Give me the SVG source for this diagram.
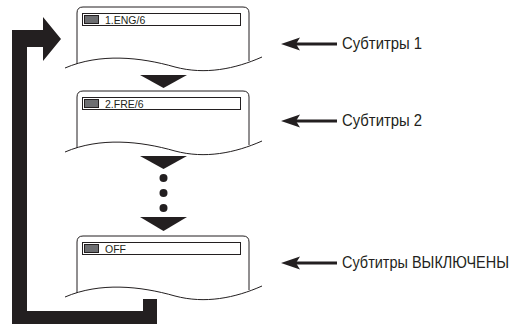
<svg xmlns="http://www.w3.org/2000/svg" width="512" height="324" viewBox="0 0 512 324">
<defs>
<style>
.frame{fill:none;stroke:#231f20;stroke-width:1}
.wave{fill:none;stroke:#231f20;stroke-width:1}
.bar{fill:#fff;stroke:#231f20;stroke-width:1}
.icon{fill:#6d6e71;stroke:#231f20;stroke-width:1}
.stxt{font-family:"Liberation Sans",Arial,sans-serif;font-size:10.5px;fill:#231f20}
.lbl{font-family:"Liberation Sans",Arial,sans-serif;font-size:16px;fill:#231f20}
.blk{fill:#231f20}
.ptr{stroke:#231f20;stroke-width:3;fill:none}
</style>
</defs>
<rect width="512" height="324" fill="#fff"/>

<g id="screen1" transform="translate(0,7)">
<path class="frame" d="M77,57 V6 Q77,0 83,0 H243 Q249,0 249,6 V54"/>
<path class="wave" d="M65,61 C100,46 140,50 175,60 C205,68 235,62 262,50"/>
<rect class="bar" x="82.5" y="6.5" width="158" height="12"/>
<rect class="icon" x="84.5" y="8.5" width="14" height="8"/>
<text class="stxt" x="105" y="16.7">1.ENG/6</text>
</g>

<g id="screen2" transform="translate(0,91)">
<path class="frame" d="M77,57 V6 Q77,0 83,0 H243 Q249,0 249,6 V54"/>
<path class="wave" d="M65,61 C100,46 140,50 175,60 C205,68 235,62 262,50"/>
<rect class="bar" x="82.5" y="6.5" width="158" height="12"/>
<rect class="icon" x="84.5" y="8.5" width="14" height="8"/>
<text class="stxt" x="105" y="16.7">2.FRE/6</text>
</g>

<g id="screen3" transform="translate(0,236)">
<path class="frame" d="M77,57 V6 Q77,0 83,0 H243 Q249,0 249,6 V54"/>
<path class="wave" d="M65,61 C100,46 140,50 175,60 C205,68 235,62 262,50"/>
<rect class="bar" x="82.5" y="6.5" width="158" height="12"/>
<rect class="icon" x="84.5" y="8.5" width="14" height="8"/>
<text class="stxt" x="105" y="16.7">OFF</text>
</g>

<g id="connectors">
<polygon class="blk" points="140,75 187,75 163.5,88"/>
<polygon class="blk" points="140,156 187,156 163.5,169"/>
<circle class="blk" cx="163.5" cy="178" r="4"/>
<circle class="blk" cx="163.5" cy="193" r="4"/>
<circle class="blk" cx="163.5" cy="208" r="4"/>
<polygon class="blk" points="140,217 187,217 163.5,231"/>
<polygon class="blk" points="12,324 12,30 43,30 43,17 61,39 43,61 43,47 27,47 27,311 143,311 143,299 157,299 157,324"/>
<line class="ptr" x1="337" y1="44" x2="295" y2="44"/>
<polygon class="blk" points="281,44 300,37.5 296,44 300,50.5"/>
<line class="ptr" x1="337" y1="121" x2="295" y2="121"/>
<polygon class="blk" points="281,121 300,114.5 296,121 300,127.5"/>
<line class="ptr" x1="337" y1="263" x2="295" y2="263"/>
<polygon class="blk" points="281,263 300,256.5 296,263 300,269.5"/>
</g>

<g id="label1"><text class="lbl" transform="translate(342,49) scale(0.93,1)">Субтитры 1</text></g>
<g id="label2"><text class="lbl" transform="translate(342,126) scale(0.93,1)">Субтитры 2</text></g>
<g id="label3"><text class="lbl" transform="translate(342,268) scale(0.905,1)">Субтитры ВЫКЛЮЧЕНЫ</text></g>
</svg>
